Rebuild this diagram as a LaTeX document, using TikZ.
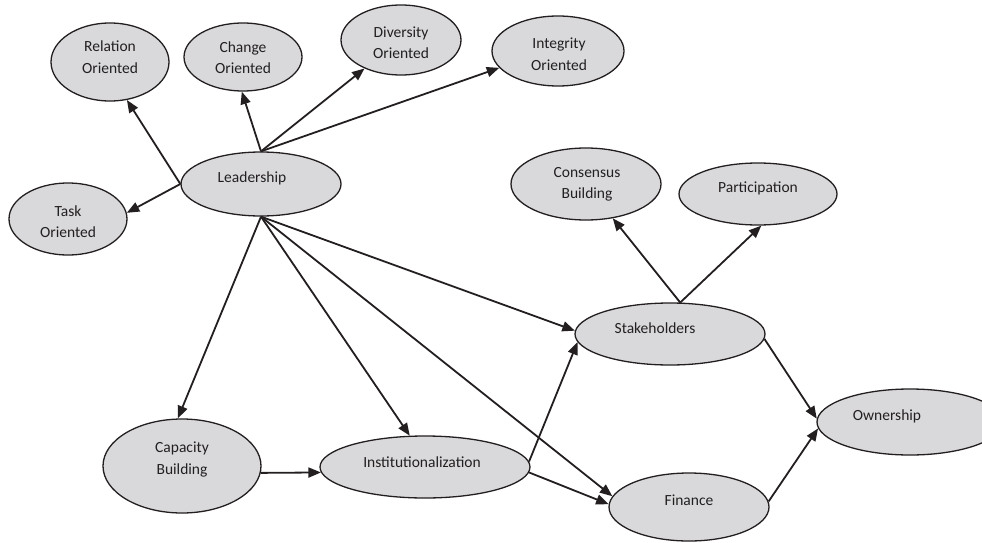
\documentclass[tikz,border=0pt]{standalone}
\usepackage{fontspec}
\setmainfont{Carlito}
\usetikzlibrary{shapes.geometric,arrows.meta}
\definecolor{bubblefill}{RGB}{217,217,219}
\definecolor{ink}{RGB}{35,31,32}
\begin{document}
\begin{tikzpicture}[x=1pt,y=-1pt,
  bubble/.style={ellipse, draw=ink, line width=1.3pt, fill=bubblefill, inner sep=0pt},
  caption/.style={font=\fontsize{15.5}{21.5}\selectfont, text=ink, align=center, inner sep=0pt},
  link/.style={draw=ink, line width=1.8pt, -{Triangle[length=12.5pt,width=10pt]}}]
\useasboundingbox (0,0) rectangle (982,543);
\clip (0,0) rectangle (982,543);

% concept ellipses
\node[bubble, minimum width=118pt, minimum height=78pt] (rel)   at (110,62)  {};
\node[bubble, minimum width=118pt, minimum height=68pt] (chg)   at (243,57)  {};
\node[bubble, minimum width=120pt, minimum height=70pt] (div)   at (401,40)  {};
\node[bubble, minimum width=132pt, minimum height=70pt] (int)   at (558,51)  {};
\node[bubble, minimum width=160pt, minimum height=64pt] (lead)  at (261,184) {};
\node[bubble, minimum width=118pt, minimum height=72pt] (task)  at (68,219)  {};
\node[bubble, minimum width=150pt, minimum height=72pt] (cons)  at (586,184) {};
\node[bubble, minimum width=158pt, minimum height=62pt] (part)  at (758,194) {};
\node[bubble, minimum width=190pt, minimum height=62pt] (stake) at (670,334) {};
\node[bubble, minimum width=186pt, minimum height=66pt] (own)   at (910,422) {};
\node[bubble, minimum width=158pt, minimum height=94pt] (cap)   at (182,466) {};
\node[bubble, minimum width=210pt, minimum height=62pt] (inst)  at (425,467) {};
\node[bubble, minimum width=160pt, minimum height=68pt] (fin)   at (689,507) {};

% labels
\node[caption] (rel-t)   at (110,57)    {Relation\\Oriented};
\node[caption] (chg-t)   at (243,57.5)  {Change\\Oriented};
\node[caption] (div-t)   at (401,42.5)  {Diversity\\Oriented};
\node[caption] (int-t)   at (559,54)    {Integrity\\Oriented};
\node[caption] (lead-t)  at (252,178)   {Leadership};
\node[caption] (task-t)  at (68,221.5)  {Task\\Oriented};
\node[caption] (cons-t)  at (587,184.5) {Consensus\\Building};
\node[caption] (part-t)  at (758,188)   {Participation};
\node[caption] (stake-t) at (655,328)   {Stakeholders};
\node[caption] (own-t)   at (887,416)   {Ownership};
\node[caption] (cap-t)   at (182,459.5) {Capacity\\Building};
\node[caption] (inst-t)  at (422,462)   {Institutionalization};
\node[caption] (fin-t)   at (689,500)   {Finance};

% leadership styles
\draw[link] (lead.west)  -- (rel.-66);
\draw[link] (lead.west)  -- (task.6);
\draw[link] (lead.north) -- (chg.-92);
\draw[link] (lead.north) -- (div.-142);
\draw[link] (lead.north) -- (int.-164);

% leadership effects
\draw[link] (lead.south) -- (cap.95);
\draw[link] (lead.south) -- (inst.116);
\draw[link] (lead.south) -- (stake.178);
\draw[link] (lead.south) -- (fin.172);

% chain towards ownership
\draw[link] (cap.-5)  -- (inst.183);
\draw[link] (inst.3)  -- (stake.185);
\draw[link] (inst.-3) -- (fin.178);
\draw[link] (stake.72) -- (cons.-52);
\draw[link] (stake.72) -- (part.-84);
\draw[link] (stake.-3) -- (own.178);
\draw[link] (fin.4)    -- (own.184);
\end{tikzpicture}
\end{document}
